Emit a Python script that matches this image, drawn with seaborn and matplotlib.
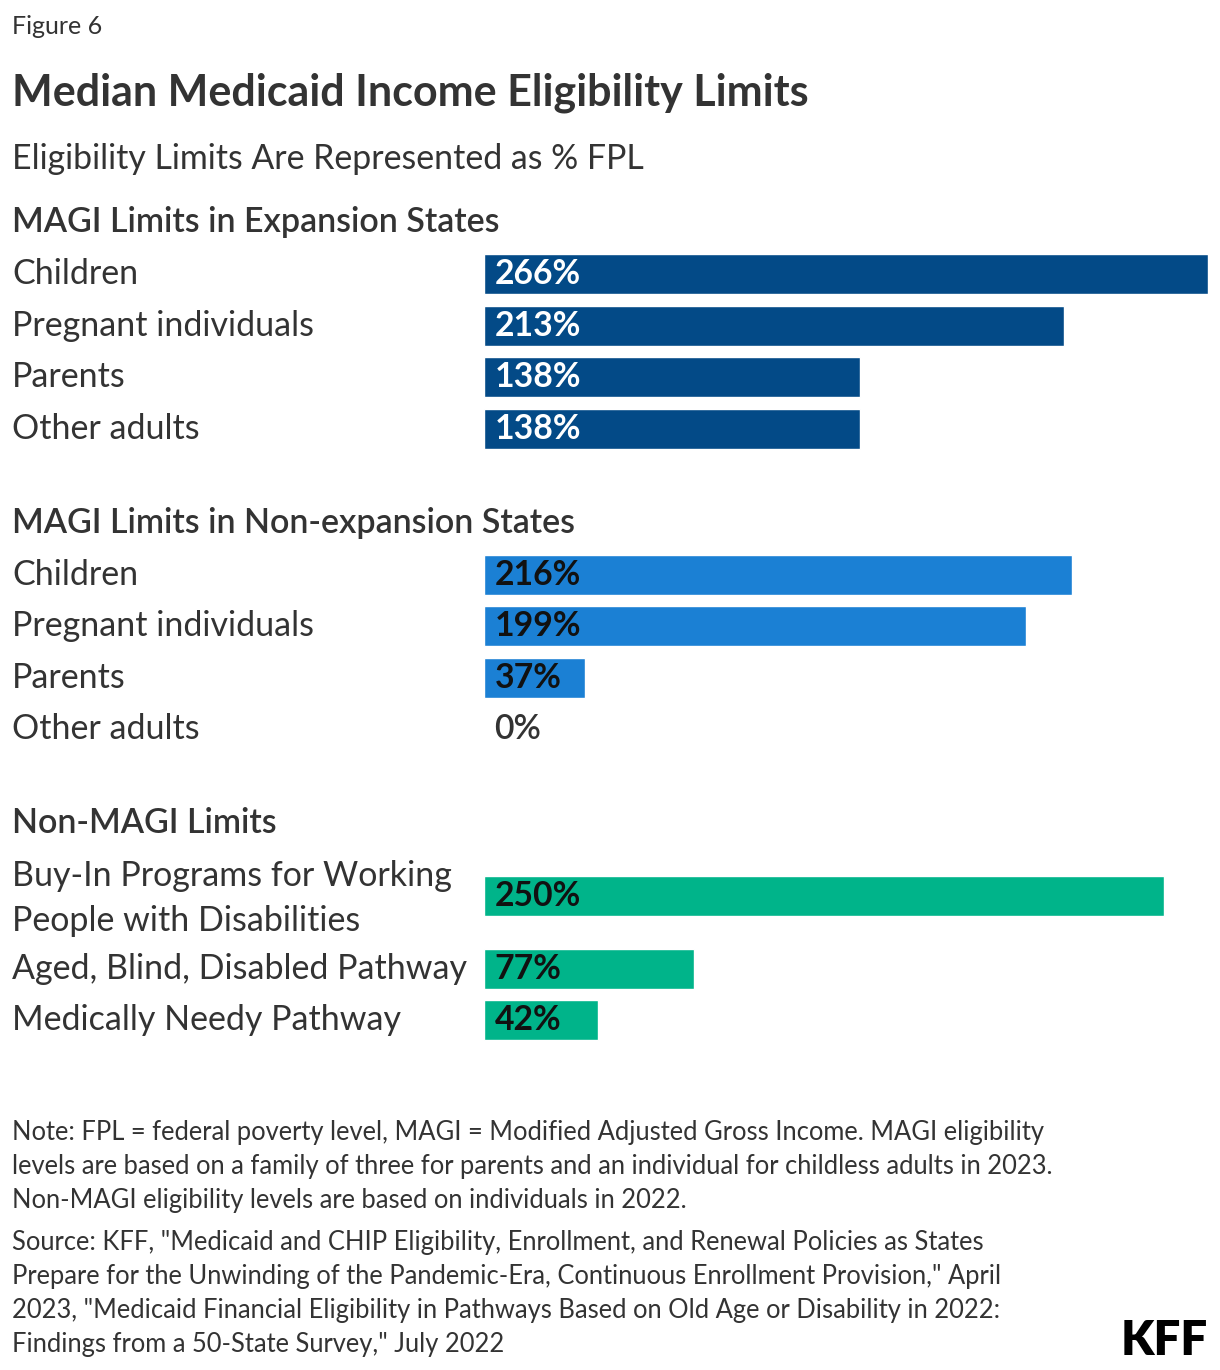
import matplotlib
matplotlib.use("Agg")
import matplotlib.pyplot as plt
import matplotlib.transforms as mtransforms
import pandas as pd
import seaborn as sns

# figure size in pixels
FIG_W, FIG_H = 1220, 1370

# data
SECTIONS = ["MAGI Limits in Expansion States",
            "MAGI Limits in Non-expansion States",
            "Non-MAGI Limits"]
EXPANSION_CATS = ["Children", "Pregnant individuals", "Parents", "Other adults"]
EXPANSION_VALS = [266, 213, 138, 138]
NONEXP_CATS = ["Children", "Pregnant individuals", "Parents", "Other adults"]
NONEXP_VALS = [216, 199, 37, 0]
NONMAGI_CATS = ["Buy-In Programs for Working\nPeople with Disabilities",
                "Aged, Blind, Disabled Pathway",
                "Medically Needy Pathway"]
NONMAGI_VALS = [250, 77, 42]

COLORS = ["#034a87", "#1b80d4", "#00b48a"]
LABEL_COLORS = ["white", "#111111", "#111111"]
TEXT = "#333333"

# layout (pixels from the top)
HEADER_Y0 = 222
ROW_STEP = 51.5
LINE_STEP = 21
SECTION_GAP = 94
BAR_H = 40
BAR_X0, BAR_X1 = 484, 1208


def build_layout():
    rows = []
    headers = []
    y = HEADER_Y0
    for sec, cats, vals in zip(SECTIONS,
                               [EXPANSION_CATS, NONEXP_CATS, NONMAGI_CATS],
                               [EXPANSION_VALS, NONEXP_VALS, NONMAGI_VALS]):
        headers.append((sec, y))
        top = y + 52
        center = top
        for cat, val in zip(cats, vals):
            n = cat.count("\n") + 1
            center = top + (n - 1) * LINE_STEP
            rows.append({"section": sec, "category": cat, "value": val, "ypos": center})
            top = center + ROW_STEP + (n - 1) * LINE_STEP
        y = center + SECTION_GAP
    return pd.DataFrame(rows), headers


def main():
    df, headers = build_layout()

    sns.set_theme(style="white")
    plt.rcParams["font.family"] = ["Lato", "DejaVu Sans"]

    fig = plt.figure(figsize=(FIG_W / 100, FIG_H / 100), dpi=100)
    ax = fig.add_axes([BAR_X0 / FIG_W, 0, (BAR_X1 - BAR_X0) / FIG_W, 1])

    sns.barplot(data=df, x="value", y="ypos", hue="section", hue_order=SECTIONS,
                palette=COLORS, orient="h", native_scale=True, dodge=False,
                width=BAR_H / ROW_STEP, saturation=1, errorbar=None,
                legend=False, ax=ax)

    ax.set_xlim(0, max(EXPANSION_VALS))
    ax.set_ylim(FIG_H, 0)
    ax.axis("off")

    trans = mtransforms.blended_transform_factory(fig.transFigure, ax.transData)

    # category labels and value labels
    for _, r in df.iterrows():
        n = r["category"].count("\n")
        fig.text(12 / FIG_W, r["ypos"] + 2 * n, r["category"], transform=trans,
                 ha="left", va="center", fontsize=24.5, color=TEXT, linespacing=1.5)
        i = SECTIONS.index(r["section"])
        if r["value"] > 0:
            color, weight = LABEL_COLORS[i], "bold"
        else:
            color, weight = TEXT, "semibold"
        ax.annotate(f"{r['value']}%", xy=(0, r["ypos"]), xytext=(7.5, 0),
                    textcoords="offset points", ha="left", va="center",
                    fontsize=24.3, fontweight=weight, color=color)

    # section headers
    for name, y in headers:
        fig.text(12 / FIG_W, y, name, transform=trans, ha="left", va="center",
                 fontsize=24.5, fontweight="semibold", color=TEXT)

    # titles
    fig.text(12 / FIG_W, 1 - 27 / FIG_H, "Figure 6", ha="left", va="center",
             fontsize=18, color=TEXT)
    fig.text(12 / FIG_W, 1 - 93 / FIG_H, "Median Medicaid Income Eligibility Limits",
             ha="left", va="center", fontsize=31, fontweight="bold", color=TEXT)
    fig.text(12 / FIG_W, 1 - 159 / FIG_H, "Eligibility Limits Are Represented as % FPL",
             ha="left", va="center", fontsize=24.4, color=TEXT)

    # footnotes
    note = ("Note: FPL = federal poverty level, MAGI = Modified Adjusted Gross Income. MAGI eligibility\n"
            "levels are based on a family of three for parents and an individual for childless adults in 2023.\n"
            "Non-MAGI eligibility levels are based on individuals in 2022.")
    source = ("Source: KFF, \"Medicaid and CHIP Eligibility, Enrollment, and Renewal Policies as States\n"
              "Prepare for the Unwinding of the Pandemic-Era, Continuous Enrollment Provision,\" April\n"
              "2023, \"Medicaid Financial Eligibility in Pathways Based on Old Age or Disability in 2022:\n"
              "Findings from a 50-State Survey,\" July 2022")
    fig.text(12 / FIG_W, 1 - 1120 / FIG_H, note, ha="left", va="top",
             fontsize=18.4, color=TEXT, linespacing=1.44)
    fig.text(12 / FIG_W, 1 - 1230 / FIG_H, source, ha="left", va="top",
             fontsize=18.4, color=TEXT, linespacing=1.445)

    fig.text(1208 / FIG_W, 1 - 1355 / FIG_H, "KFF", ha="right", va="baseline",
             fontsize=34, fontweight="heavy", color="black")

    fig.savefig("out.png", dpi=100, facecolor="white")


if __name__ == "__main__":
    main()
